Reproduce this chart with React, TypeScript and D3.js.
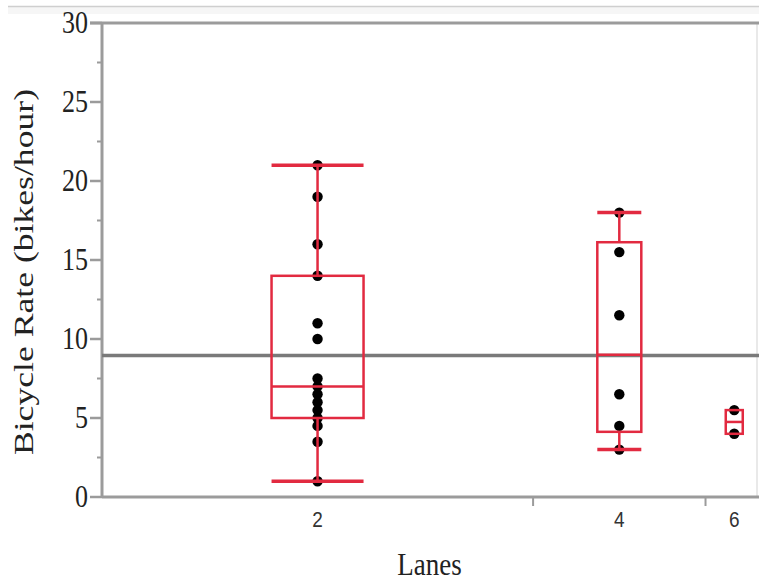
import React from "react";
import * as d3 from "d3";

// ---- data ----
const laneCategories = ["2", "4", "6"];
const rates2Lanes = [21, 19, 16, 14, 11, 10, 7.5, 7, 6.5, 6, 5.5, 5, 4.5, 3.5, 1];
const rates4Lanes = [18, 15.5, 11.5, 6.5, 4.5, 3];
const rates6Lanes = [5.5, 4];
const yTickValues = [0, 5, 10, 15, 20, 25, 30];
const yMinorTickValues = [2.5, 7.5, 12.5, 17.5, 22.5, 27.5];

const groups = [rates2Lanes, rates4Lanes, rates6Lanes];

// ---- style / layout ----
const W = 759;
const H = 584;
const AX_LEFT = 102;
const AX_RIGHT = 763;
const AX_TOP = 23;
const AX_BOTTOM = 497;
const RED = "#e22a40";
const AXIS_GRAY = "#9b9b9b";
const BOX_WIDTHS = [92, 44, 17];

function jmpQuantile(sorted: number[], p: number) {
  const n = sorted.length;
  const pos = (n + 1) * p;
  if (pos <= 1) return sorted[0];
  if (pos >= n) return sorted[n - 1];
  const lo = Math.floor(pos);
  return sorted[lo - 1] + (pos - lo) * (sorted[lo] - sorted[lo - 1]);
}

export default function App() {
  const y = d3.scaleLinear().domain([0, 30]).range([AX_BOTTOM, AX_TOP]);
  const total = d3.sum(groups, (g) => g.length);
  const x = d3.scaleLinear().domain([0, total]).range([AX_LEFT, AX_RIGHT]);

  let cum = 0;
  const bands = groups.map((g, i) => {
    const start = cum;
    cum += g.length;
    const sorted = [...g].sort((a, b) => a - b);
    const q1 = jmpQuantile(sorted, 0.25);
    const med = jmpQuantile(sorted, 0.5);
    const q3 = jmpQuantile(sorted, 0.75);
    const iqr = q3 - q1;
    const lo = d3.min(sorted.filter((v) => v >= q1 - 1.5 * iqr)) as number;
    const hi = d3.max(sorted.filter((v) => v <= q3 + 1.5 * iqr)) as number;
    return {
      label: laneCategories[i],
      x0: x(start),
      x1: x(cum),
      cx: (x(start) + x(cum)) / 2,
      values: g,
      q1,
      med,
      q3,
      lo,
      hi,
      bw: BOX_WIDTHS[i],
    };
  });

  const overallMean = d3.mean(groups.flat()) as number;
  const serif = "'Liberation Serif', 'Times New Roman', serif";
  const sans = "'Liberation Sans', Arial, sans-serif";

  return (
    <svg
      width={W}
      height={H}
      style={{ position: "absolute", left: 0, top: 0, background: "#fff" }}
    >
      {/* faint top band */}
      <rect x={8} y={7} width={W - 8} height={7} fill="#f6f6f6" />
      <line x1={8} x2={W} y1={6.5} y2={6.5} stroke="#cfcfcf" strokeWidth={1.5} />

      {/* frame */}
      <line x1={757} x2={757} y1={AX_TOP} y2={AX_BOTTOM} stroke="#e2e2e2" strokeWidth={1.5} />
      <line x1={90} x2={W} y1={AX_TOP} y2={AX_TOP} stroke={AXIS_GRAY} strokeWidth={3} />

      {/* y ticks */}
      {yTickValues.map((t) => (
        <g key={"yt" + t}>
          <line x1={90} x2={AX_LEFT} y1={y(t)} y2={y(t)} stroke={AXIS_GRAY} strokeWidth={2.5} />
          <text
            transform={`translate(88,${y(t)}) scale(1,1.18)`}
            dy="0.34em"
            textAnchor="end"
            fontFamily={serif}
            fontSize={26}
            fill="#222"
          >
            {t}
          </text>
        </g>
      ))}
      {yMinorTickValues.map((t) => (
        <line key={"ym" + t} x1={97} x2={AX_LEFT} y1={y(t)} y2={y(t)} stroke={AXIS_GRAY} strokeWidth={2} />
      ))}

      {/* axes */}
      <line x1={AX_LEFT} x2={AX_LEFT} y1={AX_TOP} y2={AX_BOTTOM} stroke={AXIS_GRAY} strokeWidth={3} />
      <line x1={AX_LEFT} x2={W} y1={AX_BOTTOM} y2={AX_BOTTOM} stroke={AXIS_GRAY} strokeWidth={3} />

      {/* x boundary ticks and labels */}
      {bands.slice(1).map((b) => (
        <line key={"xb" + b.label} x1={b.x0} x2={b.x0} y1={AX_BOTTOM} y2={AX_BOTTOM + 9} stroke={AXIS_GRAY} strokeWidth={2} />
      ))}
      {bands.map((b) => (
        <text
          key={"xl" + b.label}
          transform={`translate(${b.cx},${527}) scale(1,1.2)`}
          textAnchor="middle"
          fontFamily={sans}
          fontSize={19}
          fill="#333"
        >
          {b.label}
        </text>
      ))}

      {/* axis titles */}
      <text
        transform={`translate(${(AX_LEFT + 757) / 2},575) scale(1,1.15)`}
        textAnchor="middle"
        fontFamily={serif}
        fontSize={27}
        fill="#222"
      >
        Lanes
      </text>
      <text
        transform={`translate(33,272) scale(1,1.32) rotate(-90)`}
        textAnchor="middle"
        fontFamily={serif}
        fontSize={27}
        fill="#222"
      >
        Bicycle Rate (bikes/hour)
      </text>

      {/* mean line */}
      <line x1={AX_LEFT} x2={W} y1={y(overallMean)} y2={y(overallMean)} stroke="#7a7a7a" strokeWidth={3.5} />

      {/* points */}
      {bands.map((b) =>
        b.values.map((v, j) => (
          <circle key={b.label + "p" + j} cx={b.cx} cy={y(v)} r={5.2} fill="#000" />
        ))
      )}

      {/* boxes */}
      {bands.map((b) => (
        <g key={"box" + b.label} stroke={RED} fill="none">
          <line x1={b.cx} x2={b.cx} y1={y(b.hi)} y2={y(b.q3)} strokeWidth={2.5} />
          <line x1={b.cx} x2={b.cx} y1={y(b.q1)} y2={y(b.lo)} strokeWidth={2.5} />
          {b.hi > b.q3 && (
            <line x1={b.cx - b.bw / 2} x2={b.cx + b.bw / 2} y1={y(b.hi)} y2={y(b.hi)} strokeWidth={3.5} />
          )}
          {b.lo < b.q1 && (
            <line x1={b.cx - b.bw / 2} x2={b.cx + b.bw / 2} y1={y(b.lo)} y2={y(b.lo)} strokeWidth={3.5} />
          )}
          <rect
            x={b.cx - b.bw / 2}
            y={y(b.q3)}
            width={b.bw}
            height={y(b.q1) - y(b.q3)}
            strokeWidth={2.5}
          />
          <line x1={b.cx - b.bw / 2} x2={b.cx + b.bw / 2} y1={y(b.med)} y2={y(b.med)} strokeWidth={2.5} />
        </g>
      ))}
    </svg>
  );
}
